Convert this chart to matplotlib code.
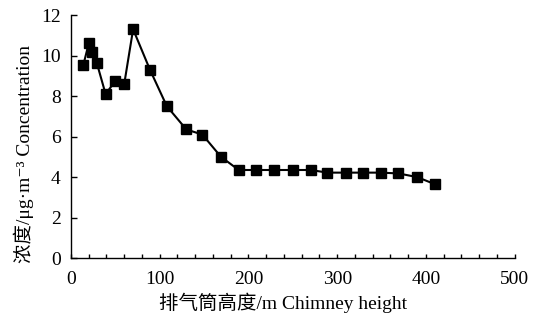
import matplotlib
matplotlib.use("Agg")
import matplotlib.pyplot as plt
from matplotlib.ticker import MultipleLocator

# chimney height (m) and concentration (ug/m3)
height = [14, 20, 24, 29, 39, 50, 60, 70, 89, 108, 130, 148, 169, 189, 209,
          229, 250, 270, 289, 310, 329, 349, 369, 390, 410]
conc = [9.55, 10.6, 10.2, 9.65, 8.1, 8.75, 8.6, 11.3, 9.3, 7.5, 6.35, 6.1,
        5.0, 4.35, 4.35, 4.35, 4.35, 4.35, 4.22, 4.22, 4.22, 4.22, 4.18,
        4.0, 3.65]

x_label = "排气筒高度/m Chimney height"
y_label = "浓度/μg·m⁻³ Concentration"

plt.rcParams['font.family'] = ['Liberation Serif', 'Noto Sans CJK SC', 'DejaVu Serif']

fig = plt.figure(figsize=(5.39, 3.21), dpi=100)
ax = fig.add_axes([0.1317, 0.196, 0.8233, 0.757])

ax.plot(height, conc, color='black', lw=1.5, marker='s', markersize=6.5,
        markerfacecolor='black', markeredgecolor='black')

ax.set_xlim(0, 500)
ax.set_ylim(0, 12)
ax.xaxis.set_major_locator(MultipleLocator(100))
ax.xaxis.set_minor_locator(MultipleLocator(20))
ax.yaxis.set_major_locator(MultipleLocator(2))

ax.spines['top'].set_visible(False)
ax.spines['right'].set_visible(False)
for s in ('left', 'bottom'):
    ax.spines[s].set_linewidth(1.0)

ax.tick_params(axis='both', which='both', direction='in', width=1.0,
               labelsize=14)
ax.tick_params(axis='x', which='both', length=3, pad=9)
ax.tick_params(axis='y', which='major', length=4, pad=7.5)

ax.set_xlabel(x_label, fontsize=14)
ax.set_ylabel(y_label, fontsize=14)
ax.xaxis.set_label_coords(0.477, -0.14)
ax.yaxis.set_label_coords(-0.083, 0.43)

fig.savefig("out.png", dpi=100)
